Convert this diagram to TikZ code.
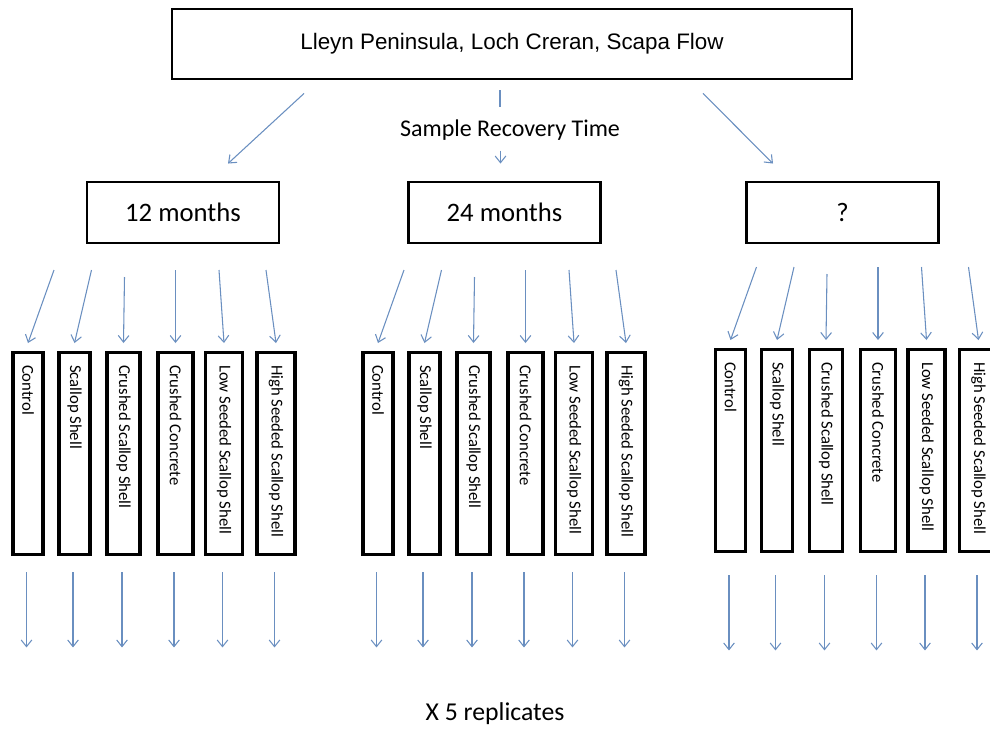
\documentclass[tikz,border=0pt]{standalone}
\usepackage{fontspec}
\setmainfont{Carlito}
\newfontfamily\arialfont{Liberation Sans}
\usepackage{graphicx}
\usetikzlibrary{arrows.meta,calc}
\definecolor{cArr}{HTML}{6A8FC0}
\tikzset{
  box/.style   ={draw=black,fill=white,line width=2.2pt,inner sep=0pt,align=center},
  site/.style  ={box,minimum width=510pt,minimum height=52.5pt,
                 font=\arialfont\fontsize{16.8}{20}\selectfont},
  period/.style={box,minimum width=144pt,minimum height=45.75pt,
                 font=\fontsize{20}{24}\selectfont},
  trt/.style   ={box,line width=2.6pt,minimum height=151.5pt,anchor=north,
                 font=\fontsize{12.5}{15}\selectfont},
  lbl/.style   ={inner sep=0pt,font=\fontsize{18}{22}\selectfont},
  sig/.style   ={-{Straight Barb[length=5pt,width=8pt]},draw=cArr,line width=0.8pt},
  lnk/.style   ={draw=cArr,line width=0.8pt},
}
\newcommand{\vtxt}[1]{\rotatebox{-90}{\makebox[133pt][l]{#1}}}

\begin{document}
\begin{tikzpicture}[x=0.75pt,y=-0.75pt]
\useasboundingbox (0,0) rectangle (990,733);

% ---------------- sites and recovery times --------------------------------
\node[site] (site) at (512,44) {Lleyn Peninsula, Loch Creran, Scapa Flow};
\node[lbl] (srt) at (510,130) {Sample Recovery Time};
\node[period] (p12) at (183,212.5) {12 months};
\node[period] (p24) at (504.5,212.5) {24 months};
\node[period] (pq)  at (842.5,212.5) {?};
\draw[sig] ($(site.south)+(-208,13)$) -- ($(p12.north)+(45,-17)$);
\draw[lnk] ($(site.south)+(-12,10)$) -- ($(site.south)+(-12,27)$);
\draw[sig] ($(p24.north)+(-4,-30)$) -- ($(p24.north)+(-4,-17)$);
\draw[sig] ($(site.south)+(191,13)$) -- ($(pq.north)+(-69.5,-17)$);

% ---------------- treatments ------------------------------------------------
\foreach \g/\x/\y/\by in {a/28/351/16,b/378/351/16,c/730.5/348/22}{
  \foreach \j/\dx/\w/\sdx/\sy/\t in {%
    1/0/30/26/81/Control,
    2/46.5/31/17/81/Scallop Shell,
    3/95.5/33/1/74/Crushed Scallop Shell,
    4/147.5/35/0/81/Crushed Concrete,
    5/196/37/-5/81/Low Seeded Scallop Shell,
    6/248/38/-10/81/High Seeded Scallop Shell}{
    \node[trt,minimum width=\w*0.75pt] (\g\j) at (\x+\dx,\y) {\vtxt{\t}};
    \draw[sig] ($(\g\j.north)+(\sdx,-\sy)$) -- ($(\g\j.north)+(0,-8)$);
    \draw[sig] ($(\g\j.south)+(-1.5,\by)$) -- ($(\g\j.south)+(-1.5,\by+75)$);
  }
}

\node[lbl,font=\fontsize{19.3}{23}\selectfont] (rep) at (495,714) {X 5 replicates};
\end{tikzpicture}
\end{document}
